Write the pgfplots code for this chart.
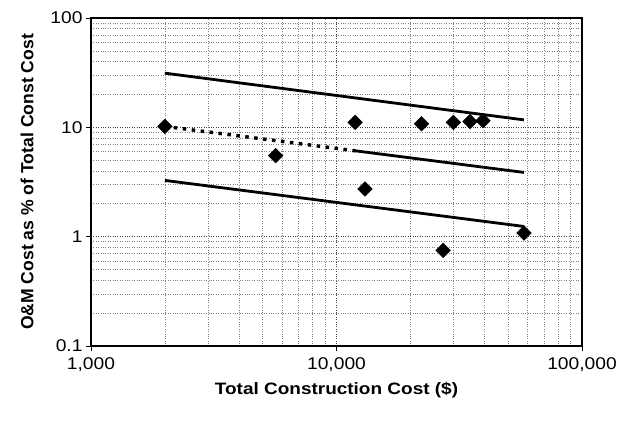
\documentclass[border=0pt]{standalone}
\usepackage{pgfplots}
\pgfplotsset{compat=1.18}
\usepackage{fontspec}
\setmainfont{Liberation Sans}
\newfontfamily\tickfont[FakeStretch=1.13]{Liberation Sans}
\newfontfamily\labfont[FakeStretch=1.15]{Liberation Sans}
\begin{document}
\begin{tikzpicture}
\begin{axis}[
  name=ax, at={(0,0)}, anchor=south west,
  scale only axis, width=491pt, height=328pt,
  xmode=log, ymode=log,
  xmin=1000, xmax=100000, ymin=0.1, ymax=100,
  xtick={1000,10000,100000}, xticklabels={1{,}000,10{,}000,100{,}000},
  ytick={0.1,1,10,100}, yticklabels={0.1,1,10,100},
  grid=both,
  major grid style={black!75, dotted, line width=0.7pt},
  minor grid style={black!50, dotted, line width=0.6pt},
  axis line style={line width=1.6pt},
  tick align=outside, tick pos=left,
  major tick length=5pt, minor tick length=0pt,
  major tick style={line width=0.8pt, black},
  tick label style={font=\tickfont\fontsize{17}{19}\selectfont},
  xticklabel style={yshift=-3pt},
  xlabel={Total Construction Cost (\$)},
  ylabel={O\&M Cost as \% of Total Const Cost},
  xlabel style={font=\labfont\bfseries\fontsize{16.5}{19}\selectfont, at={(axis description cs:0.5,-0.133)}, anchor=center},
  ylabel style={font=\bfseries\fontsize{17.6}{20}\selectfont, at={(axis description cs:-0.1303,0.5)}, anchor=center},
]
\addplot[line width=2.8pt] coordinates {(2000,31.3) (58000,11.7)};
\addplot[line width=2.8pt] coordinates {(2000,3.27) (58000,1.24)};
\addplot[line width=3.4pt, dash pattern=on 3.5pt off 5.5pt] coordinates {(2000,10.2) (12000,6.09)};
\addplot[line width=2.8pt] coordinates {(12000,6.09) (58000,3.87)};
\addplot[only marks, mark=square*, mark size=5.2pt, mark options={rotate=45, fill=black, draw=black}]
  coordinates {(2000,10.2) (5650,5.5) (11900,11.1) (13070,2.73) (22200,10.8) (27200,0.75) (29900,11.1) (35000,11.3) (39500,11.5) (58000,1.08)};
\end{axis}
\pgfresetboundingbox
\path[use as bounding box] (-91pt,-77pt) rectangle (538pt,346pt);
\end{tikzpicture}
\end{document}
